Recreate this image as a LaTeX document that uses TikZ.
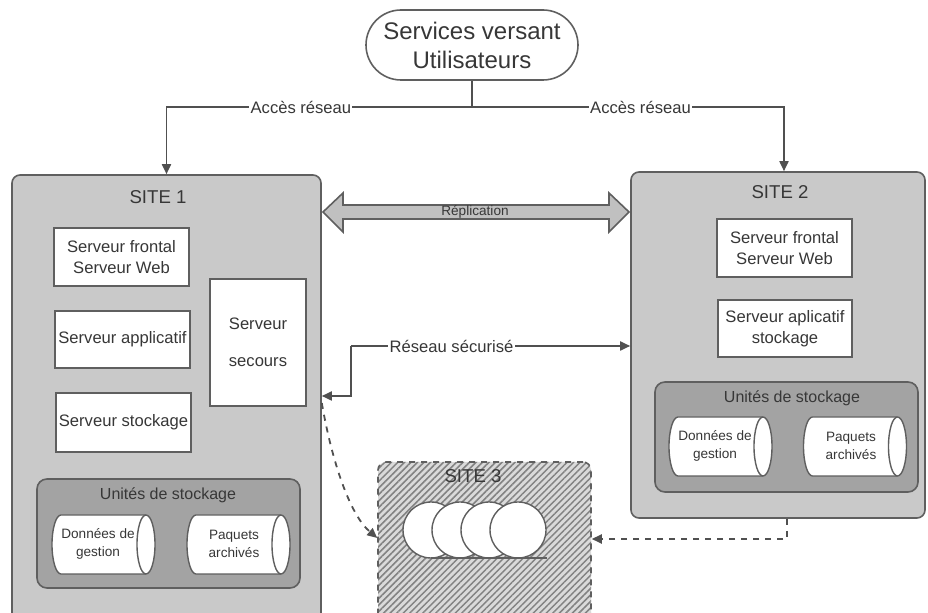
\documentclass[tikz,border=0pt]{standalone}
\usepackage{fontspec}
\setmainfont{Liberation Sans}
\usetikzlibrary{arrows.meta,shapes.geometric,patterns.meta,calc}
\definecolor{sitegray}{RGB}{201,201,201}
\definecolor{storgray}{RGB}{163,163,163}
\definecolor{linegray}{RGB}{95,95,95}
\definecolor{linecol}{RGB}{80,80,80}
\definecolor{txt}{RGB}{55,55,55}
\definecolor{hatchbg}{RGB}{218,218,218}
\definecolor{hatchln}{RGB}{130,130,130}
\definecolor{repfill}{RGB}{192,192,192}
\begin{document}
\begin{tikzpicture}[x=0.5pt,y=-0.5pt,
  site/.style={draw=linegray, fill=sitegray, rounded corners=4pt, line width=0.8pt, inner sep=0pt},
  srv/.style={draw=linegray, fill=white, line width=0.8pt, inner sep=0pt, align=center, text=txt, font=\fontsize{8.3}{10.4}\selectfont},
  stor/.style={draw=linegray, fill=storgray, rounded corners=5pt, line width=0.8pt, inner sep=0pt},
  cylline/.style={draw=linegray, line width=0.7pt},
  cylh/.pic={
    \draw[cylline, fill=white] (-42.5,-29.5) -- (42.5,-29.5)
      arc[start angle=270, end angle=450, x radius=9, y radius=29.5]
      -- (-42.5,29.5)
      arc[start angle=90, end angle=270, x radius=9, y radius=29.5] -- cycle;
    \draw[cylline] (42.5,-29.5) arc[start angle=270, end angle=90, x radius=9, y radius=29.5];
  },
  cyltxt/.style={align=center, inner sep=0pt, text=txt, font=\fontsize{6.8}{8.8}\selectfont},
  title/.style={text=txt, font=\fontsize{9.3}{11}\selectfont},
  ttl2/.style={text=txt, font=\fontsize{8}{10}\selectfont},
  conn/.style={draw=linecol, line width=0.9pt},
  arr/.style={-{Triangle[length=5pt,width=4.5pt]}},
  lbl/.style={fill=white, inner sep=0.6pt, text=txt, font=\fontsize{8.3}{10}\selectfont}]
\useasboundingbox (0,0) rectangle (928,613);
\clip (0,0) rectangle (928,613);

% top node
\node[draw=linegray, line width=0.8pt, rounded corners=17.5pt, minimum width=106pt, minimum height=35pt, inner sep=0pt, align=center, text=txt, font=\fontsize{12}{14.5}\selectfont] (top) at (472,45) {Services versant\\Utilisateurs};

% sites
\node[site, minimum width=154.5pt, minimum height=242.5pt] (site1) at (166.5,417.5) {};
\node[site, minimum width=147pt, minimum height=173pt] (site2) at (778,345) {};
\node[draw=linegray, dashed, line width=0.8pt, rounded corners=4pt, inner sep=0pt,
      preaction={fill=hatchbg}, pattern={Lines[angle=45,distance=2.3pt,line width=0.75pt]}, pattern color=hatchln,
      minimum width=106.5pt, minimum height=94pt] (site3) at (484.5,556) {};

\node[title] (t1) at (158,197) {SITE 1};
\node[title] (t2) at (780,192) {SITE 2};
\node[title] (t3) at (473,476) {SITE 3};

% site 1 servers
\node[srv, minimum width=67.5pt, minimum height=29pt] (f1) at (121.5,257) {Serveur frontal\\Serveur Web};
\node[srv, minimum width=67.5pt, minimum height=28.5pt] (a1) at (122.5,339.5) {Serveur applicatif};
\node[srv, minimum width=67.5pt, minimum height=29.5pt] (s1) at (123.5,422.5) {Serveur stockage};
\node[srv, minimum width=48pt, minimum height=63.5pt] (sec1) at (258,342.5) {Serveur\\[8pt]secours};

% site 1 storage
\node[stor, minimum width=131.5pt, minimum height=54.5pt] (u1) at (168.5,533.5) {};
\node[ttl2] (ut1) at (168,495) {Unités de stockage};
\pic at (103.5,544.5) {cylh};
\node[cyltxt] (d1t) at (98,544) {Données de\\gestion};
\pic at (238.5,544.5) {cylh};
\node[cyltxt] (p1t) at (234,544) {Paquets\\archivés};

% site 2 servers
\node[srv, minimum width=67.5pt, minimum height=29pt] (f2) at (784.5,248) {Serveur frontal\\Serveur Web};
\node[srv, minimum width=67pt, minimum height=28.5pt] (a2) at (785,328.5) {Serveur aplicatif\\stockage};

% site 2 storage
\node[stor, minimum width=131.5pt, minimum height=55pt] (u2) at (786.5,437) {};
\node[ttl2] (ut2) at (792,398) {Unités de stockage};
\pic at (720.5,446.5) {cylh};
\node[cyltxt] (d2t) at (715,446) {Données de\\gestion};
\pic at (855,446.5) {cylh};
\node[cyltxt] (p2t) at (851,446) {Paquets\\archivés};

% site 3 tapes
\foreach \cx in {431,460,489,518}{
  \draw[draw=linegray, line width=0.7pt, fill=white] (\cx,530) circle (28);
}
\draw[draw=linegray, line width=0.7pt] (431,558) -- (547,558);

% access network
\coordinate (jn) at (472,107);
\coordinate (rx2) at (784,0);
\draw[conn] (top.south) -- (jn);
\draw[conn,arr] (jn) -| node[lbl,pos=0.28]{Accès réseau} (site1.north);
\draw[conn,arr] (jn) -| node[lbl,pos=0.27]{Accès réseau} (site2.north -| rx2);

% replication double arrow
\draw[draw=linegray, line width=0.8pt, fill=repfill]
  (323,212) -- (343,193) -- (343,205) -- (609,205) -- (609,193) -- (629,212)
  -- (609,232) -- (609,219) -- (343,219) -- (343,232) -- cycle;
\node[text=txt, inner sep=0pt, font=\fontsize{6.8}{8}\selectfont] (rep) at (475,212) {Réplication};

% secure network
\coordinate (r396) at (0,396);
\coordinate (r346) at (0,346);
\coordinate (kk) at (351,346);
\draw[conn,arr] (kk) -- node[lbl,pos=0.36]{Réseau sécurisé} (site2.west |- r346);
\draw[conn,arr] (kk) |- (site1.east |- r396);

% dashed links to site 3
\coordinate (r403) at (0,403);
\coordinate (r538) at (0,538);
\draw[conn, dashed, arr] (site1.east |- r403) .. controls (332,462) and (350,515) .. (site3.west |- r538);
\coordinate (dd) at (787,539);
\draw[conn, dashed, arr] (site2.south -| dd) -- (dd) -- (site3.east |- dd);
\end{tikzpicture}
\end{document}
